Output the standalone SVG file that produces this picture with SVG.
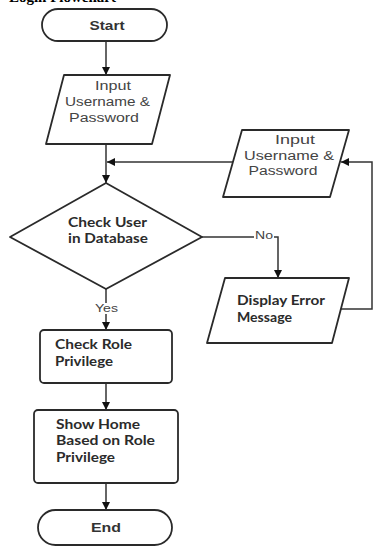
<svg xmlns="http://www.w3.org/2000/svg" width="374" height="547" viewBox="0 0 374 547">
  <defs>
    <marker id="arrow" markerUnits="userSpaceOnUse" markerWidth="8" markerHeight="8" refX="8" refY="4" orient="auto">
      <path d="M0,0 L8,4 L0,8 z" fill="#111"/>
    </marker>
    <style>
      .shape { fill: #fff; stroke: #2a2a2a; stroke-width: 1.8; stroke-linejoin: round; }
      .edge { fill: none; stroke: #333; stroke-width: 1.5; marker-end: url(#arrow); }
      .t-in { font-family: "Liberation Sans", Arial, sans-serif; font-size: 12.5px; fill: #444; text-anchor: middle; }
      .t-b { font-family: Lato, "Liberation Sans", sans-serif; font-weight: bold; font-size: 13px; fill: #2b2b2b; }
      .t-term { font-family: "Liberation Sans", Arial, sans-serif; font-weight: bold; font-size: 13px; fill: #333; text-anchor: middle; }
      .t-lbl { font-family: "Liberation Sans", Arial, sans-serif; font-size: 10px; fill: #444; text-anchor: middle; }
      .title { font-family: "Liberation Serif", "Times New Roman", serif; font-weight: bold; font-size: 15px; fill: #000; text-anchor: end; }
    </style>
  </defs>

  <rect width="374" height="547" fill="#fff"/>

  <!-- caption above the chart, mostly cropped by the top edge -->
  <text class="title" x="116" y="2">Login Flowchart</text>

  <!-- connectors -->
  <g id="connectors">
    <path class="edge" d="M106,41 V75"/>
    <path class="edge" d="M106,144 V183"/>
    <path class="edge" d="M233,162 H107"/>
    <path class="edge" d="M202,237 H278 V278"/>
    <path class="edge" d="M341,309 H372 V162 H341"/>
    <path class="edge" d="M106,289 V330"/>
    <path class="edge" d="M106,383 V410"/>
    <path class="edge" d="M106,483 V510"/>
    <rect x="254" y="230" width="20" height="11" fill="#fff"/>
    <text class="t-lbl" x="264" y="239" textLength="18" lengthAdjust="spacingAndGlyphs">No</text>
    <rect x="94" y="303" width="25" height="11" fill="#fff"/>
    <text class="t-lbl" x="106.5" y="312" textLength="23" lengthAdjust="spacingAndGlyphs">Yes</text>
  </g>

  <g id="start">
    <rect class="shape" x="42" y="9" width="125" height="32" rx="16"/>
    <text class="t-term" x="107" y="30" textLength="35" lengthAdjust="spacingAndGlyphs">Start</text>
  </g>

  <g id="input-credentials">
    <path class="shape" d="M64,75 H170 L152,144 H46 Z"/>
    <text class="t-in" x="113" y="90" textLength="36" lengthAdjust="spacingAndGlyphs">Input</text>
    <text class="t-in" x="107.5" y="106" textLength="85" lengthAdjust="spacingAndGlyphs">Username &amp;</text>
    <text class="t-in" x="104" y="122" textLength="70" lengthAdjust="spacingAndGlyphs">Password</text>
  </g>

  <g id="check-user">
    <path class="shape" d="M106,183 L202,237 L106,289 L10,237 Z"/>
    <text class="t-b" x="68" y="227" textLength="79" lengthAdjust="spacingAndGlyphs">Check User</text>
    <text class="t-b" x="68" y="243" textLength="80" lengthAdjust="spacingAndGlyphs">in Database</text>
  </g>

  <g id="reinput-credentials">
    <path class="shape" d="M242,130 H349 L330,197 H223 Z"/>
    <text class="t-in" x="295" y="144" textLength="40" lengthAdjust="spacingAndGlyphs">Input</text>
    <text class="t-in" x="289" y="160" textLength="90" lengthAdjust="spacingAndGlyphs">Username &amp;</text>
    <text class="t-in" x="283" y="175" textLength="69" lengthAdjust="spacingAndGlyphs">Password</text>
  </g>

  <g id="display-error">
    <path class="shape" d="M225,278 H349 L332,343 H207 Z"/>
    <text class="t-b" x="237" y="305" textLength="88" lengthAdjust="spacingAndGlyphs">Display Error</text>
    <text class="t-b" x="237" y="322" textLength="55" lengthAdjust="spacingAndGlyphs">Message</text>
  </g>

  <g id="check-role">
    <rect class="shape" x="40" y="330" width="132" height="53" rx="4"/>
    <text class="t-b" x="55" y="349" textLength="77" lengthAdjust="spacingAndGlyphs">Check Role</text>
    <text class="t-b" x="55" y="366" textLength="58" lengthAdjust="spacingAndGlyphs">Privilege</text>
  </g>

  <g id="show-home">
    <rect class="shape" x="34" y="410" width="144" height="73" rx="4"/>
    <text class="t-b" x="56" y="429" textLength="84" lengthAdjust="spacingAndGlyphs">Show Home</text>
    <text class="t-b" x="56" y="445" textLength="99" lengthAdjust="spacingAndGlyphs">Based on Role</text>
    <text class="t-b" x="56" y="462" textLength="59" lengthAdjust="spacingAndGlyphs">Privilege</text>
  </g>

  <g id="end">
    <rect class="shape" x="38" y="510" width="134" height="35" rx="17.5"/>
    <text class="t-term" x="106" y="532" textLength="30" lengthAdjust="spacingAndGlyphs">End</text>
  </g>
</svg>
